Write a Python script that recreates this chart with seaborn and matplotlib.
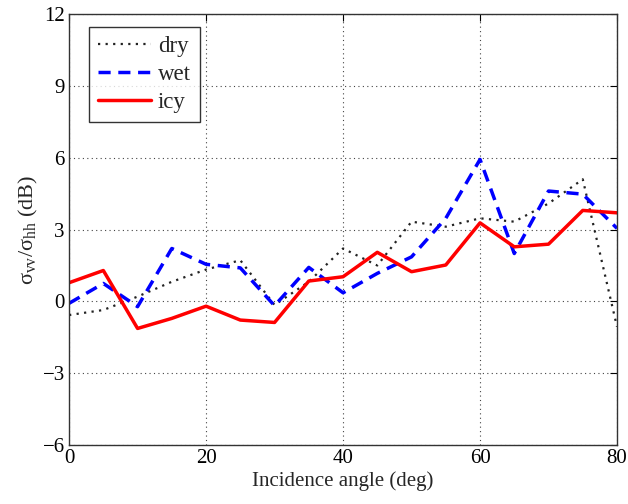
import numpy as np
import pandas as pd
import matplotlib
matplotlib.use("Agg")
import matplotlib.pyplot as plt
import seaborn as sns

angles = [0, 5, 10, 15, 20, 25, 30, 35, 40, 45, 50, 55, 60, 65, 70, 75, 80]
dry = [-0.57, -0.36, 0.2, 0.82, 1.33, 1.72, -0.15, 0.82, 2.21, 1.5, 3.33, 3.12, 3.47, 3.33, 4.09, 5.1, -1.06]
wet = [-0.08, 0.75, -0.22, 2.21, 1.55, 1.4, -0.18, 1.42, 0.36, 1.17, 1.86, 3.47, 5.93, 2.0, 4.61, 4.48, 3.05]
icy = [0.78, 1.29, -1.13, -0.71, -0.2, -0.78, -0.88, 0.85, 1.03, 2.05, 1.24, 1.52, 3.28, 2.28, 2.39, 3.8, 3.7]

xticks = [0, 20, 40, 60, 80]
yticks = [-6, -3, 0, 3, 6, 9, 12]

sns.set_style("white")
plt.rcParams['font.family'] = ['Liberation Serif', 'DejaVu Serif']
plt.rcParams['mathtext.fontset'] = 'custom'
plt.rcParams['mathtext.rm'] = 'Liberation Serif'
plt.rcParams['mathtext.it'] = 'Liberation Serif:italic'
plt.rcParams['axes.unicode_minus'] = True

fig = plt.figure(figsize=(6.28, 5.04), dpi=100)
ax = fig.add_axes([0.110, 0.117, 0.8725, 0.855])

df = pd.DataFrame({"angle": angles, "dry": dry, "wet": wet, "icy": icy})

sns.lineplot(data=df, x="angle", y="dry", ax=ax, color="#222222", lw=1.6,
             linestyle=(0, (1, 2.4)), label="dry")
sns.lineplot(data=df, x="angle", y="wet", ax=ax, color="#0000ff", lw=2.5,
             linestyle=(0, (3.5, 2.2)), label="wet")
sns.lineplot(data=df, x="angle", y="icy", ax=ax, color="#ff0000", lw=2.5,
             linestyle="-", label="icy")

ax.set_xlim(0, 80)
ax.set_ylim(-6, 12)
ax.set_xticks(xticks)
ax.set_yticks(yticks)
ax.set_xticklabels([str(t) for t in xticks])
ax.set_yticklabels([str(t).replace('-', '\u2212') for t in yticks])
ax.tick_params(direction='in', top=True, right=True, length=5, width=0.8,
               labelsize=15, colors='black', pad=3)
ax.grid(True, linestyle=(0, (1, 3)), color='#444444', linewidth=0.8)
for s in ax.spines.values():
    s.set_color('#333333')
    s.set_linewidth(1.0)

ax.set_xlabel("Incidence angle (deg)", fontsize=15, labelpad=2)
ax.set_ylabel("\u03c3$_{\\mathrm{vv}}$/\u03c3$_{\\mathrm{hh}}$ (dB)", fontsize=16, labelpad=2)

leg = ax.legend(loc='upper left', bbox_to_anchor=(0.0365, 0.970), borderaxespad=0,
                fontsize=16.5, frameon=True, fancybox=False, handlelength=2.3,
                borderpad=0.4, labelspacing=0.3, handletextpad=0.3)
leg.get_frame().set_edgecolor('black')
leg.get_frame().set_linewidth(1.0)

fig.savefig("out.png", dpi=100)
